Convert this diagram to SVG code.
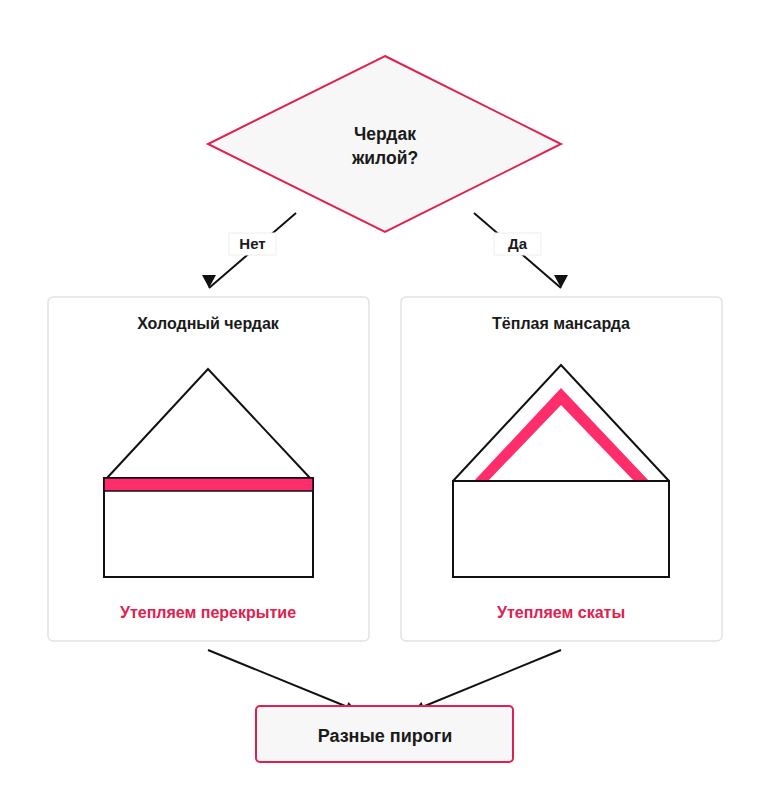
<svg xmlns="http://www.w3.org/2000/svg" width="770" height="786" viewBox="0 0 770 786">
<style>
text{font-family:"Liberation Sans",Arial,sans-serif;font-weight:bold;text-anchor:middle;fill:#1a1a1a}
.t{font-size:16px}
.red{fill:#e0204f;font-size:16px}
.panel{fill:#ffffff;stroke:#e2e2e2;stroke-width:1.5}
.ln{stroke:#111;stroke-width:2;fill:none}
.hs{fill:#fff;stroke:#111;stroke-width:2}
.pink{fill:#ff2d6b}
.lbl{fill:#fff;stroke:#eeeeee;stroke-width:1}
</style>
<defs>
<marker id="ah" viewBox="0 0 10 10" refX="9" refY="5" markerWidth="12" markerHeight="10" orient="auto" markerUnits="userSpaceOnUse">
<path d="M0,0 L10,5 L0,10 z" fill="#111"/>
</marker>
<marker id="tri" viewBox="0 0 14 13" refX="7" refY="13" markerWidth="14" markerHeight="13" orient="0" markerUnits="userSpaceOnUse">
<path d="M0,0 L14,0 L7,13 z" fill="#111"/>
</marker>
</defs>
<rect width="770" height="786" fill="#fff"/>
<g id="connectors">
<line class="ln" x1="296" y1="213" x2="209" y2="288" marker-end="url(#tri)"/>
<line class="ln" x1="474" y1="213" x2="561" y2="288" marker-end="url(#tri)"/>
<line class="ln" x1="208" y1="650" x2="355" y2="710" marker-end="url(#ah)"/>
<line class="ln" x1="561" y1="650" x2="415" y2="710" marker-end="url(#ah)"/>
<g id="label-no"><rect class="lbl" x="229" y="233" width="47" height="22"/><text x="252.5" y="249" style="font-size:15px">Нет</text></g>
<g id="label-yes"><rect class="lbl" x="494" y="233" width="47" height="22"/><text x="517.5" y="249" style="font-size:15px">Да</text></g>
</g>
<g id="decision">
<polygon points="385,56 561,144 385,232 208,144" fill="#f7f7f7" stroke="#e0204f" stroke-width="2"/>
<text x="385" y="140" style="font-size:17.5px">Чердак</text>
<text x="385" y="164" style="font-size:17.5px">жилой?</text>
</g>
<g id="cold">
<rect class="panel" x="48" y="297" width="321" height="344" rx="5"/>
<text class="t" x="208" y="329">Холодный чердак</text>
<polyline class="ln" points="107,478 208,369 310,478"/>
<rect class="hs" x="104" y="478" width="209" height="99"/>
<rect class="pink" x="104" y="478" width="209" height="13" stroke="#111" stroke-width="1.5"/>
<text class="red" x="208" y="618">Утепляем перекрытие</text>
</g>
<g id="warm">
<rect class="panel" x="401" y="297" width="321" height="344" rx="5"/>
<text class="t" x="561" y="329">Тёплая мансарда</text>
<polyline class="ln" points="453,481 561,365 669,481"/>
<polygon class="pink" points="474,481 561,388 649,481 634,481 561,405 488,481"/>
<rect x="453" y="481" width="216" height="96" fill="none" stroke="#111" stroke-width="2"/>
<text class="red" x="561" y="618">Утепляем скаты</text>
</g>
<g id="result">
<rect x="256" y="706" width="257" height="56" rx="4" fill="#f7f7f7" stroke="#e0204f" stroke-width="2"/>
<text x="385" y="742" style="font-size:18px">Разные пироги</text>
</g>
</svg>
